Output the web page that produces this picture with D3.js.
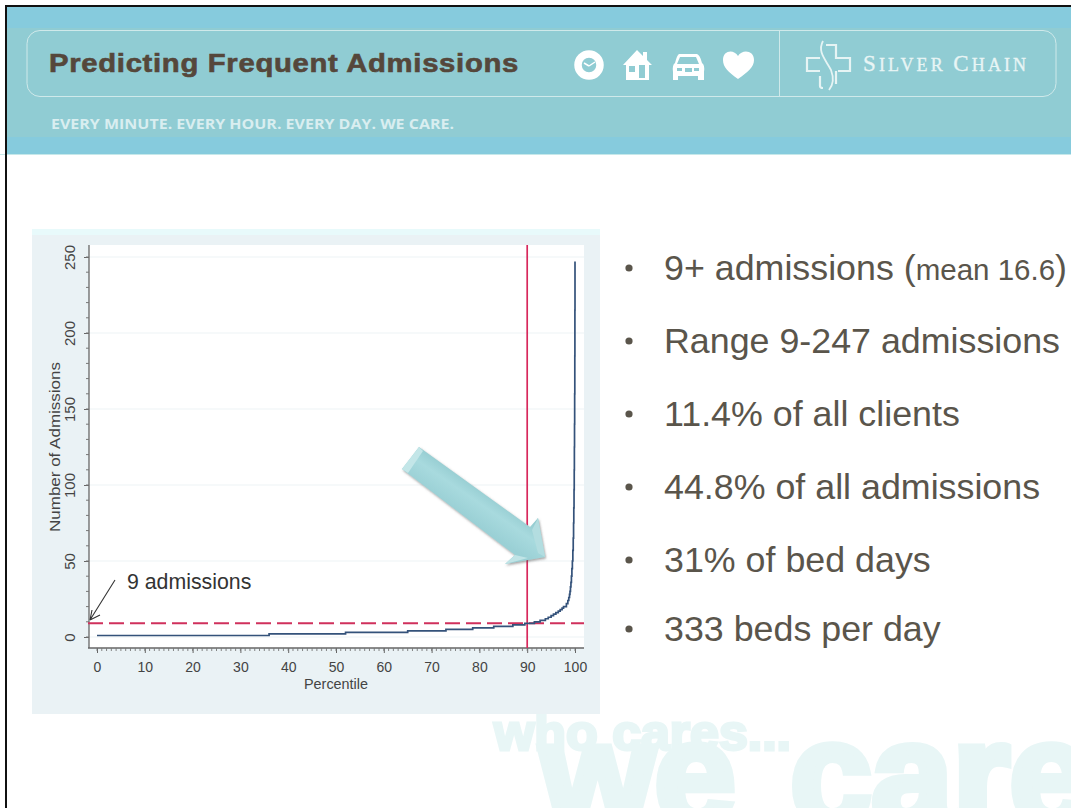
<!DOCTYPE html>
<html>
<head>
<meta charset="utf-8">
<script src="https://d3js.org/d3.v7.min.js"></script>
<style>
  html, body { margin: 0; padding: 0; background: #fff; }
  svg { display: block; }
  text { font-family: "Liberation Sans", Arial, sans-serif; }
</style>
</head>
<body>
<div id="chart"></div>
<script>
const percentiles = [0, 36, 52, 65, 73, 78.6, 83, 87, 89.5, 91.5, 92.7, 93.8, 94.4, 95, 95.5, 96, 96.5, 96.9, 97.3, 97.6, 98.2, 98.5, 98.7, 98.85, 98.95, 99.05, 99.15, 99.25, 99.35, 99.45, 99.55, 99.63, 99.7, 99.75, 99.8, 99.84, 99.87, 99.9, 99.93, 99.96, 99.98, 100];
const admissions = [1, 2, 3, 4, 5, 6, 7, 8, 9, 10, 11, 12, 13, 14, 15, 16, 17, 18, 19, 20, 22, 24, 26, 28, 30, 33, 36, 40, 45, 50, 57, 65, 75, 85, 97, 110, 125, 140, 160, 185, 215, 247];
const xTicks = [0, 10, 20, 30, 40, 50, 60, 70, 80, 90, 100];
const yTicks = [0, 50, 100, 150, 200, 250];
const cutoffPercentile = 90;
const cutoffAdmissions = 9;
const bullets = ["9+ admissions (", "Range 9-247 admissions", "11.4% of all clients", "44.8% of all admissions", "31% of bed days", "333 beds per day"];
const bulletBaselines = [279.5, 352.5, 425.5, 498.5, 571.5, 640.5];

const svg = d3.select("#chart").append("svg").attr("width", 1071).attr("height", 808);
const defs = svg.append("defs");

const arrowGrad = defs.append("linearGradient").attr("id", "arrowGrad")
    .attr("gradientUnits", "userSpaceOnUse")
    .attr("x1", 480).attr("y1", 480).attr("x2", 458).attr("y2", 512);
arrowGrad.append("stop").attr("offset", "0").attr("stop-color", "#8ec7cc");
arrowGrad.append("stop").attr("offset", "0.5").attr("stop-color", "#a8dade");
arrowGrad.append("stop").attr("offset", "1").attr("stop-color", "#9ad0d5");
const shadow = defs.append("filter").attr("id", "arrowShadow")
    .attr("x", "-20%").attr("y", "-20%").attr("width", "140%").attr("height", "140%");
shadow.append("feDropShadow").attr("dx", 1).attr("dy", 1.5).attr("stdDeviation", 1.2)
    .attr("flood-color", "#555").attr("flood-opacity", 0.55);

// watermark
const mark = svg.append("g").attr("fill", "#e8f6f6").attr("stroke", "#e8f6f6").attr("font-weight", "bold");
mark.append("text").attr("x", 494).attr("y", 750).attr("font-size", 50).attr("stroke-width", 3)
    .attr("textLength", 297).attr("lengthAdjust", "spacingAndGlyphs").text("who cares...");
mark.append("text").attr("x", 541).attr("y", 825).attr("font-size", 146).attr("stroke-width", 8)
    .attr("word-spacing", 14).text("we care");

// header band
svg.append("rect").attr("x", 6).attr("y", 6).attr("width", 1065).attr("height", 148).attr("fill", "#86cbdd");
svg.append("rect").attr("x", 6).attr("y", 28).attr("width", 1065).attr("height", 109).attr("fill", "#90ccd3");
svg.append("rect").attr("x", 27).attr("y", 30.5).attr("width", 1029).attr("height", 66).attr("rx", 13)
    .attr("fill", "none").attr("stroke", "#cfe9ea").attr("stroke-width", 1);
svg.append("line").attr("x1", 779.5).attr("x2", 779.5).attr("y1", 30).attr("y2", 97).attr("stroke", "#cfe9ea");
svg.append("line").attr("x1", 0).attr("x2", 1071).attr("y1", 154.5).attr("y2", 154.5).attr("stroke", "#c6e8ea");
svg.append("rect").attr("x", 5).attr("y", 5).attr("width", 1066).attr("height", 2).attr("fill", "#111");
svg.append("rect").attr("x", 5).attr("y", 5).attr("width", 2).attr("height", 803).attr("fill", "#111");

svg.append("text").attr("x", 49).attr("y", 72).attr("font-size", 25.5).attr("font-weight", "bold")
    .attr("fill", "#55473b").attr("stroke", "#55473b").attr("stroke-width", 0.6)
    .attr("letter-spacing", 0.6).attr("textLength", 470).attr("lengthAdjust", "spacingAndGlyphs")
    .text("Predicting Frequent Admissions");
svg.append("text").attr("x", 51).attr("y", 129).attr("font-size", 14).attr("font-weight", "bold")
    .style("font-family", "'Open Sans'").attr("fill", "#d9eef0")
    .attr("textLength", 403).attr("lengthAdjust", "spacingAndGlyphs").text("EVERY MINUTE. EVERY HOUR. EVERY DAY. WE CARE.");

// header icons
const icons = svg.append("g").attr("fill", "#fff");
icons.append("circle").attr("cx", 589).attr("cy", 65).attr("r", 11).attr("fill", "none").attr("stroke", "#fff").attr("stroke-width", 7.5);
icons.append("path").attr("d", "M589 66l6-4M589 66l-5-3").attr("stroke", "#fff").attr("stroke-width", 1.5).attr("fill", "none");
icons.append("path").attr("fill-rule", "evenodd")
    .attr("d", "M623 65L637 50L643 56V52H647V60L652 65H649V80H626V65Z M629 66h6v6h-6Z M639 65h6v13h-6Z");
icons.append("path").attr("fill-rule", "evenodd").attr("transform", "translate(2,0)")
    .attr("d", "M677 54H695Q698 55 700 63Q703 65 702 72V80H696V76H676V80H671V72Q670 65 673 63Q675 55 677 54Z M678 57L675 64H697L694 57Z M675 68v3h5v-3Z M692 68v3h5v-3Z M683 68v4h7v-4Z");
icons.append("path").attr("transform", "translate(3,0)").attr("d", "M735 79C725 72 720 67 720 60C720 50 731 49 735 56C739 49 751 50 751 60C751 67 745 72 735 79Z");

// logo
const logo = svg.append("g").attr("fill", "none").attr("stroke", "#e6f4f4");
logo.append("path").attr("stroke-width", 2.2)
    .attr("d", "M820 58H807V71H820 M820 76V86Q820 88 823 88 M826 45H836V58H850V71H838 M836 71V84");
logo.append("path").attr("stroke-width", 1.8).attr("d", "M823 41C817 52 826 60 831 70C834 78 834 84 829 90");
const brand = svg.append("text").attr("x", 863).attr("y", 71).attr("fill", "#e8f5f5")
    .attr("stroke", "#e8f5f5").attr("stroke-width", 0.3)
    .style("font-family", "'Liberation Serif'").attr("font-size", 18).attr("letter-spacing", 3.1);
brand.append("tspan").attr("font-size", 23).text("S");
brand.append("tspan").text("ILVER ");
brand.append("tspan").attr("font-size", 23).text("C");
brand.append("tspan").text("HAIN");

// chart panel
svg.append("rect").attr("x", 32).attr("y", 229).attr("width", 568).attr("height", 7).attr("fill", "#e8fafb");
svg.append("rect").attr("x", 32).attr("y", 235).attr("width", 568).attr("height", 479).attr("fill", "#eaf2f5");
svg.append("rect").attr("x", 89).attr("y", 245).attr("width", 495).attr("height", 403).attr("fill", "#fff");

const x = d3.scaleLinear().domain([0, 100]).range([97, 575]);
const y = d3.scaleLinear().domain([0, 250]).range([637, 257]);

svg.append("g").selectAll("line").data(yTicks).join("line")
    .attr("x1", 89).attr("x2", 584).attr("y1", d => y(d)).attr("y2", d => y(d))
    .attr("stroke", "#edf3f5").attr("stroke-width", 1);

const xAxis = svg.append("g").attr("transform", "translate(0,648)")
    .call(d3.axisBottom(x).tickValues(xTicks).tickSize(5).tickPadding(9));
xAxis.append("g").selectAll("line").data(d3.range(0, 101)).join("line")
    .attr("x1", d => x(d)).attr("x2", d => x(d)).attr("y1", 0).attr("y2", 3).attr("stroke", "#777").attr("stroke-width", 0.9);
const yAxis = svg.append("g").attr("transform", "translate(89,0)")
    .call(d3.axisLeft(y).tickValues(yTicks).tickSize(5));
yAxis.append("g").selectAll("line").data(d3.range(0, 251, 10)).join("line")
    .attr("x1", -3).attr("x2", 0).attr("y1", d => y(d)).attr("y2", d => y(d)).attr("stroke", "#777").attr("stroke-width", 1);

xAxis.select(".domain").attr("d", "M88,0H584").attr("stroke", "#666").attr("stroke-width", 1.3);
yAxis.select(".domain").attr("d", "M0,245V648").attr("stroke", "#666").attr("stroke-width", 1.3);
[xAxis, yAxis].forEach(a => {
    a.selectAll(".tick line").attr("stroke", "#666");
    a.selectAll(".tick text").attr("fill", "#444").attr("font-size", 14)
        .style("font-family", "'Liberation Sans'");
});
yAxis.selectAll(".tick text").attr("x", 0).attr("dy", 0)
    .attr("transform", "translate(-14,0) rotate(-90) scale(1.07,1)").attr("text-anchor", "middle");

svg.append("text").attr("transform", "translate(60,447) rotate(-90)").attr("text-anchor", "middle")
    .attr("font-size", 14.5).attr("fill", "#444")
    .attr("textLength", 170).attr("lengthAdjust", "spacingAndGlyphs").text("Number of Admissions");
svg.append("text").attr("x", 336).attr("y", 689).attr("text-anchor", "middle")
    .attr("font-size", 14.4).attr("fill", "#444").text("Percentile");

// reference lines
svg.append("line").attr("x1", 88).attr("x2", 584).attr("y1", y(cutoffAdmissions)).attr("y2", y(cutoffAdmissions))
    .attr("stroke", "#d0305c").attr("stroke-width", 2).attr("stroke-dasharray", "15 6");
svg.append("line").attr("x1", x(cutoffPercentile)).attr("x2", x(cutoffPercentile)).attr("y1", 245).attr("y2", 648)
    .attr("stroke", "#d8285c").attr("stroke-width", 1.7);

// curve
const line = d3.line().x((d, i) => x(percentiles[i])).y(d => y(d)).curve(d3.curveStepAfter);
svg.append("path").datum(admissions).attr("d", line).attr("fill", "none")
    .attr("stroke", "#34527a").attr("stroke-width", 1.7);

// big arrow
const bigArrow = svg.append("g");
bigArrow.append("path").attr("d", "M419 447L530 527L538 518L545 557L505 564L515 555L402 469Z")
    .attr("fill", "url(#arrowGrad)").attr("filter", "url(#arrowShadow)");
bigArrow.append("path").attr("d", "M419 447L402 469L408 473L423 451Z").attr("fill", "#c3e6e8");
bigArrow.append("path").attr("d", "M538 518L545 557L538 553L532 530Z").attr("fill", "#b3dde0");
bigArrow.append("path").attr("d", "M505 564L515 555L528 558Z").attr("fill", "#c0e4e6");

// annotation
svg.append("text").attr("x", 127).attr("y", 588.5).attr("font-size", 21.3).attr("fill", "#333").text("9 admissions");
svg.append("path").attr("d", "M115 580L90 620M90 620L92 610M90 620L100 615").attr("fill", "none").attr("stroke", "#333").attr("stroke-width", 1.1);

// bullet list
const list = svg.append("g").attr("fill", "#5a554b");
list.selectAll("circle").data(bulletBaselines).join("circle")
    .attr("cx", 629).attr("cy", d => d - 11.5).attr("r", 3.6);
const rows = list.selectAll("text").data(bullets).join("text")
    .attr("x", 664).attr("y", (d, i) => bulletBaselines[i]).attr("font-size", 35.8).text(d => d);
const first = d3.select(rows.nodes()[0]);
first.append("tspan").attr("font-size", 29.5).text("mean 16.6");
first.append("tspan").text(")");
</script>
</body>
</html>
